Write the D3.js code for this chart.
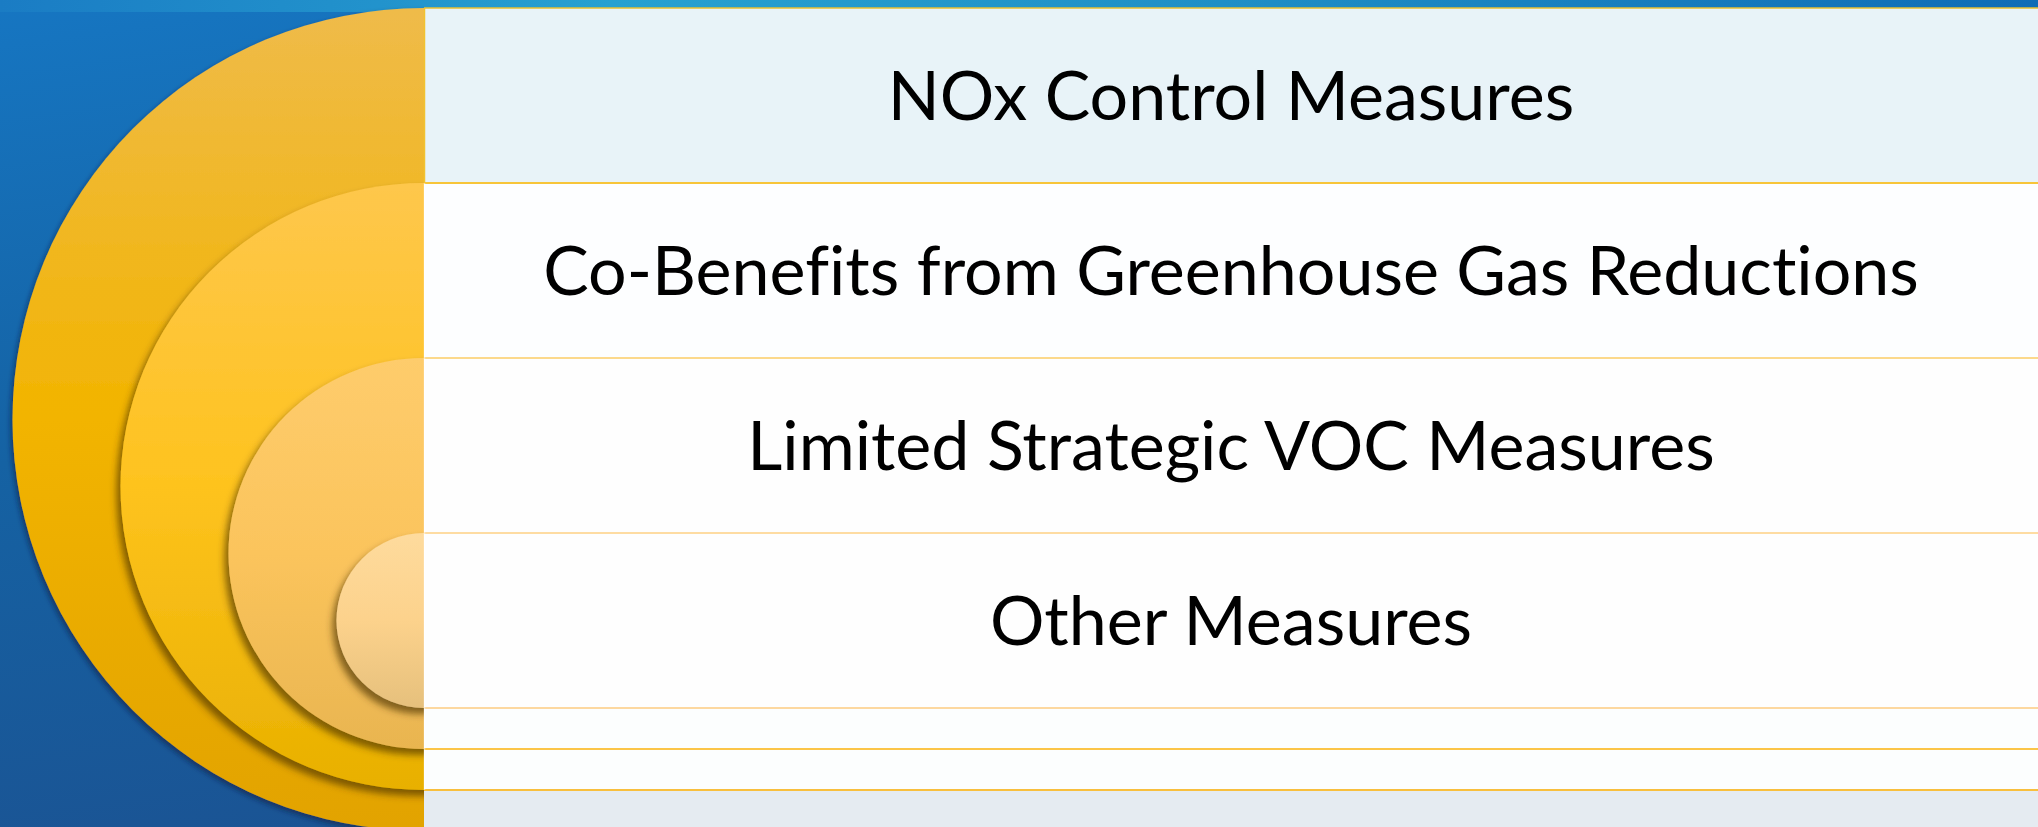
<!DOCTYPE html>
<html><head><meta charset="utf-8">
<script src="https://cdn.jsdelivr.net/npm/d3@7"></script>
<style>html,body{margin:0;padding:0;overflow:hidden;background:#1a6fb8;}</style>
</head><body>
<svg id="chart" width="2038" height="827"></svg>
<script>
// ---- data ----
const categories = ["NOx Control Measures", "Co-Benefits from Greenhouse Gas Reductions", "Limited Strategic VOC Measures", "Other Measures"];
const levels = [0, 1, 2, 3];               // nesting depth (outer -> inner)
const circleTop = ["#efbb4a", "#fec74c", "#fecc6c", "#fedb9d"];
const circleMid = ["#f2b400", "#fec31e", "#fbc45c", "#fcd28c"];
const circleBot = ["#e2a300", "#e8b000", "#e9b550", "#e6c07c"];
const rowFill  = ["#e8f3f8", "#fdfeff", "#fefefe", "#fefefe"];
const lineCol  = ["#f7c53a", "#fcd98c", "#fedca2", "#fdd8a0", "#fbc548", "#f8bf3e"];

(function(){
const W = 2038, H = 827;
const svg = d3.select("#chart");
const defs = svg.append("defs");

// background gradient
const bg = defs.append("linearGradient").attr("id","bg").attr("x1","0").attr("y1","0").attr("x2","0.35").attr("y2","1");
bg.append("stop").attr("offset","0").attr("stop-color","#1676c2");
bg.append("stop").attr("offset","0.5").attr("stop-color","#1562a3");
bg.append("stop").attr("offset","1").attr("stop-color","#1b5292");
svg.append("rect").attr("width",W).attr("height",H).attr("fill","url(#bg)");
const tg = defs.append("linearGradient").attr("id","topg").attr("x1","0").attr("x2","1").attr("y1","0").attr("y2","0");
tg.append("stop").attr("offset","0").attr("stop-color","#1a7cc4");
tg.append("stop").attr("offset","0.3").attr("stop-color","#27a1d1");
tg.append("stop").attr("offset","0.6").attr("stop-color","#1f8fc6");
tg.append("stop").attr("offset","1").attr("stop-color","#0f6cb6");
svg.append("rect").attr("width",W).attr("height",12).attr("fill","url(#topg)");

// layout scales
const panelX = 424, y0 = 8;
const textRowH = 175, gapRowH = 41;
const nR = categories.length;
const gapU = gapRowH / textRowH;
const yU = d3.scaleLinear().domain([0, 1]).range([y0, y0 + textRowH]);
const rowTop = i => yU(i);
const stripBottom = k => yU(nR + k * gapU);

// panel
svg.append("rect").attr("x",panelX).attr("y",y0).attr("width",W-panelX).attr("height",H-y0).attr("fill","#e5ebf1");
svg.selectAll("rect.row").data(categories).join("rect").attr("class","row")
  .attr("x",panelX).attr("y",(d,i)=>rowTop(i)).attr("width",W-panelX).attr("height",textRowH)
  .attr("fill",(d,i)=>rowFill[i]);
svg.append("rect").attr("x",panelX).attr("y",stripBottom(0)).attr("width",W-panelX)
  .attr("height",stripBottom(nR-2)-stripBottom(0)).attr("fill","#fcfefe");

// circles
const sh = defs.append("filter").attr("id","sh").attr("x","-0.2").attr("y","-0.2").attr("width","1.4").attr("height","1.4");
sh.append("feDropShadow").attr("dx",-4).attr("dy",6).attr("stdDeviation",3.5).attr("flood-color","#4a3000").attr("flood-opacity",0.65);
const sh0 = defs.append("filter").attr("id","sh0").attr("x","-0.2").attr("y","-0.2").attr("width","1.4").attr("height","1.4");
sh0.append("feDropShadow").attr("dx",-2).attr("dy",3).attr("stdDeviation",2.5).attr("flood-color","#0a2040").attr("flood-opacity",0.6);
defs.append("clipPath").attr("id","leftclip").append("rect").attr("x",-10).attr("y",-10).attr("width",panelX+10).attr("height",H+20);

levels.forEach(k => {
  const g = defs.append("linearGradient").attr("id","cg"+k).attr("x1","0").attr("x2","0").attr("y1","0").attr("y2","1");
  g.append("stop").attr("offset","0").attr("stop-color",circleTop[k]);
  g.append("stop").attr("offset","0.5").attr("stop-color",circleMid[k]);
  g.append("stop").attr("offset","1").attr("stop-color",circleBot[k]);
});
const cg = svg.append("g").attr("clip-path","url(#leftclip)");
cg.selectAll("circle").data(levels).join("circle")
  .attr("cx",panelX)
  .attr("cy",k => (rowTop(k) + stripBottom(nR-1-k))/2)
  .attr("r",k => (stripBottom(nR-1-k) - rowTop(k))/2)
  .attr("fill",k => "url(#cg"+k+")")
  .attr("filter",k => k===0 ? "url(#sh0)" : "url(#sh)");

// lines
const lineYs = [rowTop(1), rowTop(2), rowTop(3), stripBottom(0), stripBottom(1), stripBottom(2)];
svg.selectAll("line.sep").data(lineYs).join("line").attr("class","sep")
  .attr("x1",panelX).attr("x2",W).attr("y1",d=>d).attr("y2",d=>d)
  .attr("stroke",(d,i)=>lineCol[i]).attr("stroke-width",2);
svg.append("line").attr("x1",panelX).attr("x2",W).attr("y1",y0).attr("y2",y0).attr("stroke","#e8c030").attr("stroke-width",1.5);
svg.append("line").attr("x1",panelX+0.5).attr("x2",panelX+0.5).attr("y1",y0).attr("y2",rowTop(1)).attr("stroke","#f2c230").attr("stroke-width",1.5);
svg.append("line").attr("x1",panelX+0.5).attr("x2",panelX+0.5).attr("y1",rowTop(1)).attr("y2",stripBottom(2)).attr("stroke","#ffffff").attr("stroke-opacity",0.5).attr("stroke-width",1.5);

// labels
const cx = (panelX + W)/2;
const labels = svg.selectAll("text.lab").data(categories).join("text").attr("class","lab")
  .attr("x",cx).attr("y",(d,i)=> (rowTop(i)+rowTop(i+1))/2 + 24)
  .attr("text-anchor","middle")
  .attr("font-family","Lato, 'Open Sans', sans-serif")
  .style("font-variant-ligatures","none").style("font-feature-settings","'liga' 0, 'clig' 0")
  .attr("font-size",67).attr("fill","#000").text(d=>d);
const longest = labels.filter((d,i)=>i===1).node();
const wNow = longest.getComputedTextLength();
const fs = 67 * 1376 / wNow;
labels.attr("font-size", Math.min(74, Math.max(58, fs)));
})();
</script>
</body></html>
